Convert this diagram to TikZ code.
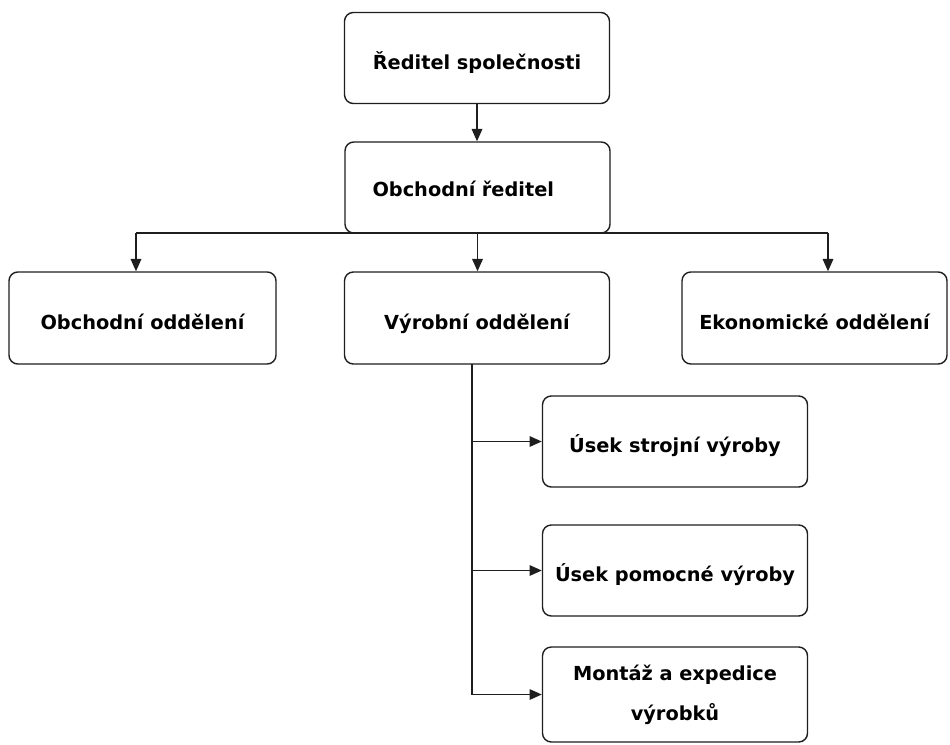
\documentclass[tikz,border=0pt]{standalone}
\usepackage{fontspec}
\setmainfont{DejaVu Sans}
\usepackage{tikz}
\usetikzlibrary{positioning,arrows.meta,calc}
\definecolor{edge}{RGB}{30,30,30}

\tikzset{
  unit/.style={draw=edge, line width=0.8pt, rounded corners=5pt, fill=white,
    minimum width=5.3cm, minimum height=1.82cm, align=center,
    font=\fontsize{11}{22.8}\selectfont\bfseries},
  lowtext/.style={text height=0.55cm, text depth=0.1cm},
  link/.style={draw=edge, line width=0.85pt},
  linkarr/.style={link, -{Triangle[width=6pt,length=7pt]}}
}

\begin{document}
\begin{tikzpicture}
  \useasboundingbox (0,0) rectangle (19,-14.9);

  \node[unit, lowtext] (ceo) at (9.54,-1.16) {Ředitel společnosti};
  \node[unit, text width=4.2cm, inner xsep=0.54cm, align=left, text height=0.45cm, text depth=0.1cm] (cso) at (9.55,-3.75) {Obchodní ředitel};

  \node[unit, lowtext, minimum width=5.34cm, minimum height=1.84cm] (sales) at (2.85,-6.36) {Obchodní oddělení};
  \node[unit, lowtext, minimum height=1.84cm] (prod) at (9.54,-6.36) {Výrobní oddělení};
  \node[unit, lowtext, minimum height=1.84cm] (econ) at (16.29,-6.36) {Ekonomické oddělení};

  \node[unit, lowtext] (mach) at (13.5,-8.83) {Úsek strojní výroby};
  \node[unit, lowtext] (aux) at (13.5,-11.41) {Úsek pomocné výroby};
  \node[unit, minimum height=1.9cm] (ship) at (13.5,-13.89) {Montáž a expedice\\výrobků};

  \coordinate (busL) at (2.72,-4.66);
  \coordinate (busR) at (16.56,-4.66);
  \coordinate (spine) at (9.44,-7.28);

  \draw[linkarr] (ceo.south) -- (ceo.south |- cso.north);

  % rozdeleni pod obchodnim reditelem
  \draw[link] (busL) -- (busR);
  \draw[linkarr] (busL) -- (busL |- sales.north);
  \draw[linkarr] (cso.south) -- (cso.south |- prod.north);
  \draw[linkarr] (busR) -- (busR |- econ.north);

  % useky vyrobniho oddeleni
  \draw[link] (spine) -- (spine |- ship.west);
  \draw[linkarr] (spine |- mach.west) -- (mach.west);
  \draw[linkarr] (spine |- aux.west) -- (aux.west);
  \draw[linkarr] (spine |- ship.west) -- (ship.west);
\end{tikzpicture}
\end{document}
